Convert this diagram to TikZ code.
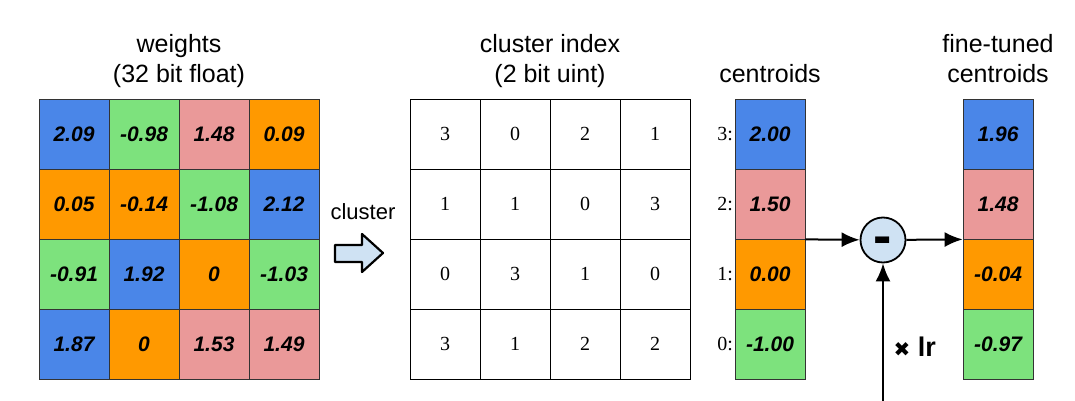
\documentclass[tikz,border=0pt]{standalone}
\usepackage{fontspec}
\setmainfont{Liberation Sans}
\newfontfamily\idxfont{Liberation Serif}
\newfontfamily\symfont{DejaVu Sans}
\usetikzlibrary{arrows.meta}
\definecolor{cblue}{HTML}{4A86E8}
\definecolor{cgreen}{HTML}{7DE27D}
\definecolor{cpink}{HTML}{EA9999}
\definecolor{corange}{HTML}{FF9900}
\definecolor{cpale}{HTML}{CFE2F3}
\tikzset{
  wcell/.style={draw=black!80, line width=0.8pt, minimum size=70pt, inner sep=0pt,
    font=\fontsize{21}{21}\selectfont\bfseries\itshape},
  icell/.style={draw=black, line width=0.8pt, minimum size=70pt, inner sep=0pt,
    font=\fontsize{20}{20}\selectfont\idxfont},
  idxlab/.style={anchor=east, inner sep=0pt, font=\fontsize{20}{20}\selectfont\idxfont},
  headtext/.style={align=center, anchor=south, inner sep=0pt, text depth=6pt,
    font=\fontsize{25}{30}\selectfont},
  flow/.style={line width=2pt, -{Latex[length=18pt,width=15pt]}},
}
\begin{document}
\begin{tikzpicture}[x=1pt,y=-1pt]
\useasboundingbox (0,0) rectangle (1075,401);
% headings
\node[headtext] (wtitle) at (179,89) {weights\\(32 bit float)};
\node[headtext] (ititle) at (550,89) {cluster index\\(2 bit uint)};
\node[headtext] (ctitle) at (770,89) {centroids};
\node[headtext] (ftitle) at (998,89) {fine-tuned\\centroids};
% weights
\node[wcell, fill=cblue] (w11) at (74,134) {2.09};
\node[wcell, fill=cgreen] (w12) at (144,134) {-0.98};
\node[wcell, fill=cpink] (w13) at (214,134) {1.48};
\node[wcell, fill=corange] (w14) at (284,134) {0.09};
\node[wcell, fill=corange] (w21) at (74,204) {0.05};
\node[wcell, fill=corange] (w22) at (144,204) {-0.14};
\node[wcell, fill=cgreen] (w23) at (214,204) {-1.08};
\node[wcell, fill=cblue] (w24) at (284,204) {2.12};
\node[wcell, fill=cgreen] (w31) at (74,274) {-0.91};
\node[wcell, fill=cblue] (w32) at (144,274) {1.92};
\node[wcell, fill=corange] (w33) at (214,274) {0};
\node[wcell, fill=cgreen] (w34) at (284,274) {-1.03};
\node[wcell, fill=cblue] (w41) at (74,344) {1.87};
\node[wcell, fill=corange] (w42) at (144,344) {0};
\node[wcell, fill=cpink] (w43) at (214,344) {1.53};
\node[wcell, fill=cpink] (w44) at (284,344) {1.49};
% cluster step
\node[font=\fontsize{22}{22}\selectfont] (clab) at (363,212) {cluster};
\draw[line width=2.2pt, line join=round, fill=cpale] (335,245) -- (362,245) -- (362,234)
  -- (383,253) -- (362,272) -- (362,262) -- (335,262) -- cycle;
% cluster index
\node[icell] (i11) at (445,134) {3};
\node[icell] (i12) at (515,134) {0};
\node[icell] (i13) at (585,134) {2};
\node[icell] (i14) at (655,134) {1};
\node[icell] (i21) at (445,204) {1};
\node[icell] (i22) at (515,204) {1};
\node[icell] (i23) at (585,204) {0};
\node[icell] (i24) at (655,204) {3};
\node[icell] (i31) at (445,274) {0};
\node[icell] (i32) at (515,274) {3};
\node[icell] (i33) at (585,274) {1};
\node[icell] (i34) at (655,274) {0};
\node[icell] (i41) at (445,344) {3};
\node[icell] (i42) at (515,344) {1};
\node[icell] (i43) at (585,344) {2};
\node[icell] (i44) at (655,344) {2};
% centroids
\node[wcell, fill=cblue] (cen3) at (770,134) {2.00};
\node[wcell, fill=cpink] (cen2) at (770,204) {1.50};
\node[wcell, fill=corange] (cen1) at (770,274) {0.00};
\node[wcell, fill=cgreen] (cen0) at (770,344) {-1.00};
\node[idxlab] (lab3) at (733,134) {3:};
\node[idxlab] (lab2) at (733,204) {2:};
\node[idxlab] (lab1) at (733,274) {1:};
\node[idxlab] (lab0) at (733,344) {0:};
% fine-tuned centroids
\node[wcell, fill=cblue] (ft3) at (998,134) {1.96};
\node[wcell, fill=cpink] (ft2) at (998,204) {1.48};
\node[wcell, fill=corange] (ft1) at (998,274) {-0.04};
\node[wcell, fill=cgreen] (ft0) at (998,344) {-0.97};
% update
\node[circle, draw, line width=1.8pt, fill=cpale, minimum size=45pt, inner sep=0pt,
  text height=28pt, text depth=0pt, font=\fontsize{55}{55}\selectfont\bfseries] (minus) at (883,240) {-};
\coordinate (grad) at (883,401);
\draw[flow] (cen2.south east) -- (minus);
\draw[flow] (minus) -- (ft2.south west);
\draw[flow] (grad) -- (minus);
\node[anchor=west, font=\fontsize{27}{27}\selectfont\bfseries] (lr) at (890,347)
  {{\symfont\fontsize{20}{20}\selectfont ✖} lr};
\end{tikzpicture}
\end{document}
